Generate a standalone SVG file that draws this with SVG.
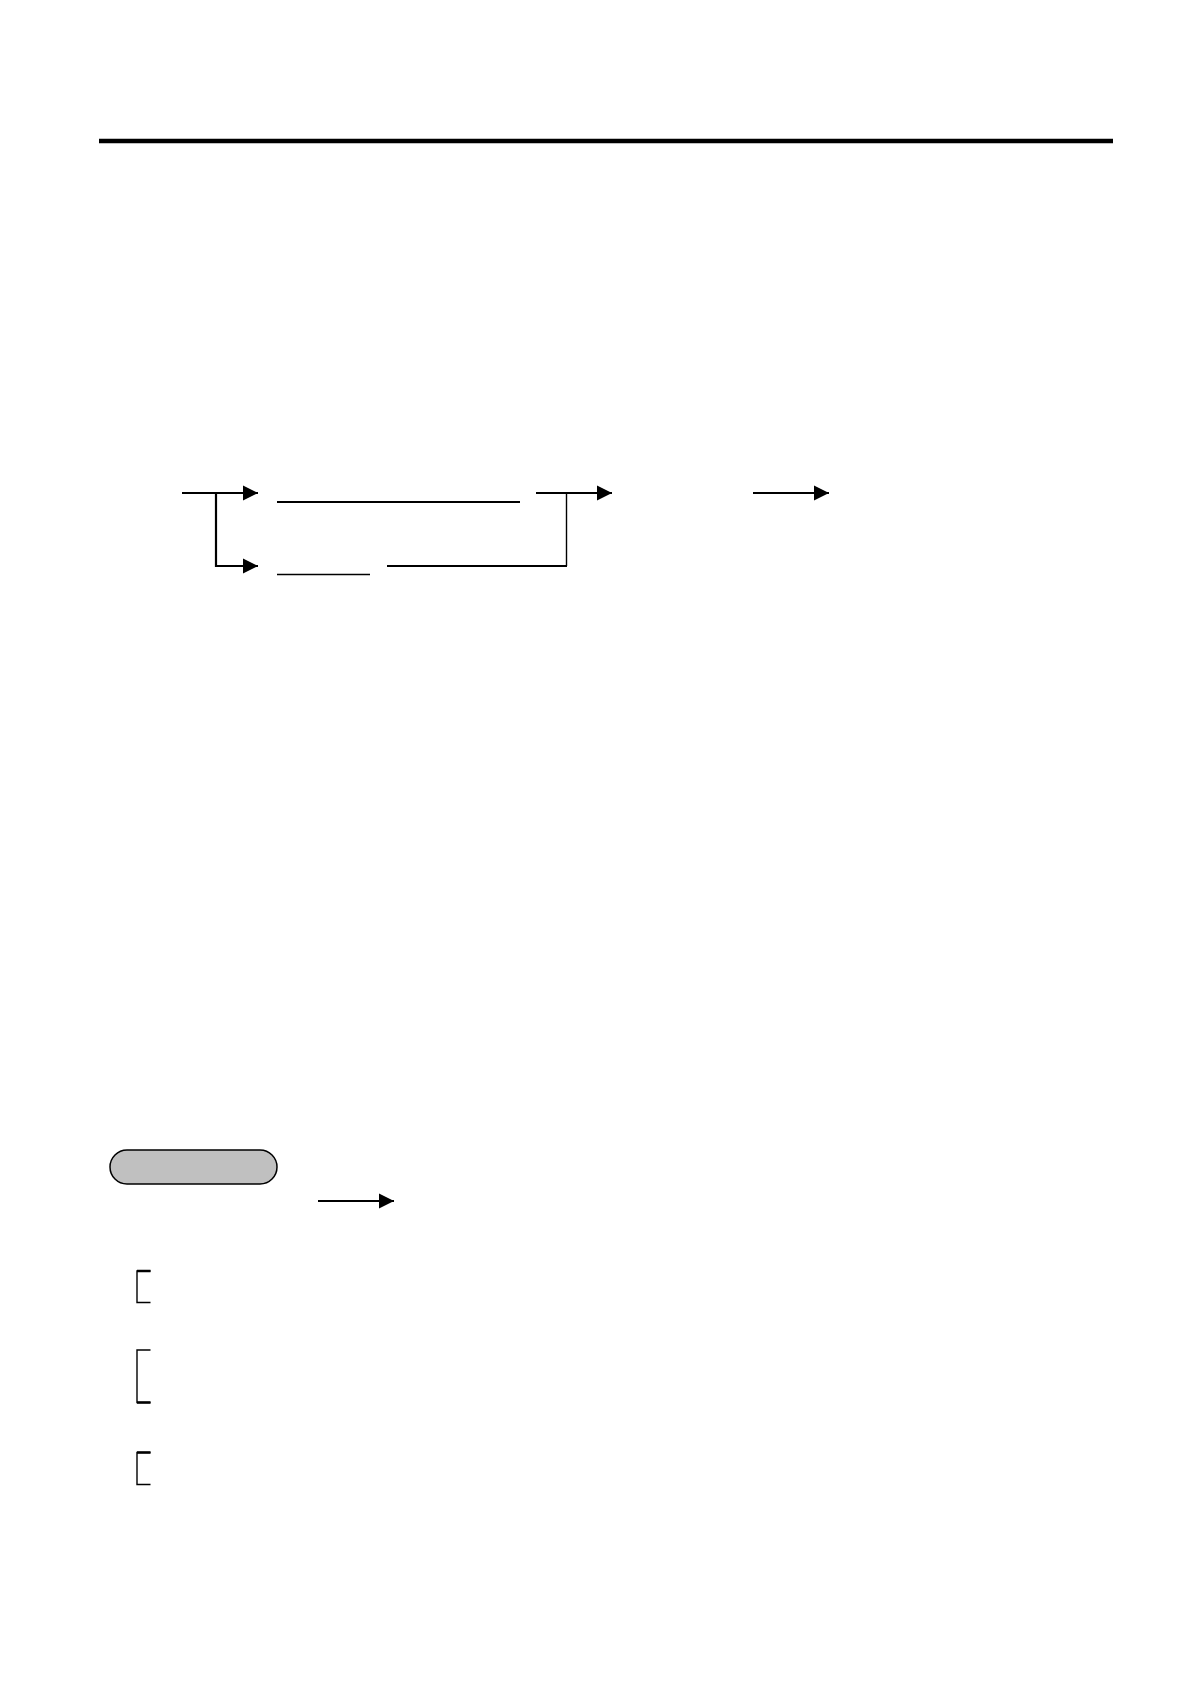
<svg xmlns="http://www.w3.org/2000/svg" width="1190" height="1684" viewBox="0 0 1190 1684">
<style>
.ln{stroke:#000;stroke-width:2.2;fill:none}
.thin{stroke:#000;stroke-width:1.4;fill:none}
.ah{fill:#000}
.pill{fill:#c0c0c0;stroke:#000;stroke-width:1.5}
</style>
<defs>
<marker id="arr" markerUnits="userSpaceOnUse" markerWidth="16" markerHeight="16" viewBox="0 0 16 16" refX="15" refY="8" orient="auto">
<path d="M0,0.5 L15,8 L0,15.5 Z" class="ah"/>
</marker>
</defs>
<rect width="1190" height="1684" fill="#fff"/>
<line x1="99" y1="141" x2="1113" y2="141" stroke="#000" stroke-width="4.5"/>
<g id="connectors">
<line class="ln" x1="182" y1="493" x2="258" y2="493" marker-end="url(#arr)"/>
<polyline class="ln" points="216,493 216,566 258,566" marker-end="url(#arr)"/>
<line class="ln" x1="536" y1="493" x2="612" y2="493" marker-end="url(#arr)"/>
<line class="thin" x1="566.5" y1="493" x2="566.5" y2="566"/>
<line class="ln" x1="387" y1="566" x2="567" y2="566"/>
<line class="ln" x1="753" y1="493" x2="829" y2="493" marker-end="url(#arr)"/>
<line class="ln" x1="318" y1="1201" x2="394" y2="1201" marker-end="url(#arr)"/>
</g>
<g id="underline1"><line class="ln" x1="277" y1="502" x2="520" y2="502"/></g>
<g id="underline2"><line class="thin" x1="277" y1="574.5" x2="370" y2="574.5"/></g>
<g id="pill"><rect class="pill" x="110" y="1150" width="167" height="34" rx="17" ry="17"/></g>
<g id="bracket1">
<polyline class="thin" points="150.5,1271 137,1271 137,1302.5 150.5,1302.5"/>
<line x1="137" y1="1271" x2="150.5" y2="1271" stroke="#000" stroke-width="2.5"/>
</g>
<g id="bracket2">
<polyline class="thin" points="150.5,1350 137,1350 137,1402.5 150.5,1402.5"/>
<line x1="137" y1="1402.5" x2="150.5" y2="1402.5" stroke="#000" stroke-width="2.5"/>
</g>
<g id="bracket3">
<polyline class="thin" points="150.5,1452.5 137,1452.5 137,1484.5 150.5,1484.5"/>
<line x1="137" y1="1452.5" x2="150.5" y2="1452.5" stroke="#000" stroke-width="2.5"/>
</g>
</svg>
